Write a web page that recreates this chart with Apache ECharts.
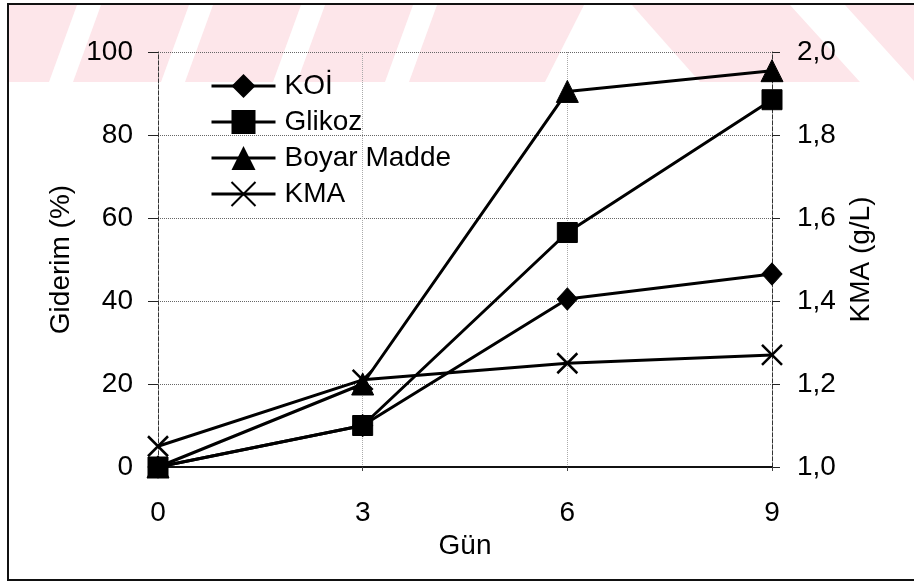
<!DOCTYPE html>
<html>
<head>
<meta charset="utf-8">
<script src="https://cdn.jsdelivr.net/npm/echarts@6/dist/echarts.min.js"></script>
<style>
html,body{margin:0;padding:0;background:#fff;}
#chart{width:914px;height:588px;}
</style>
</head>
<body>
<div id="chart"></div>
<script>
const days = [0, 3, 6, 9];
const koi = [0, 10, 40.5, 46.5];
const glikoz = [0, 10, 56.5, 88.5];
const boyar = [0, 20, 90.5, 95.5];
const kma = [1.05, 1.21, 1.25, 1.27];
const seriesNames = ['KOİ', 'Glikoz', 'Boyar Madde', 'KMA'];
const leftTicks = [0, 20, 40, 60, 80, 100];
const rightTicks = [1.0, 1.2, 1.4, 1.6, 1.8, 2.0];

const FONT = '"Liberation Sans", Arial, sans-serif';
const chart = echarts.init(document.getElementById('chart'), null, {renderer: 'canvas'});

function pair(xs, ys) { return xs.map((x, i) => [x, ys[i]]); }

// watermark decoration (background band)
const pink = '#fde6ea';
const wm = [{type: 'rect', shape: {x: 8, y: 5, width: 906, height: 77}, style: {fill: pink}, z: -10, silent: true}];
[77, 189, 301, 413].forEach(t => {
  wm.push({type: 'polygon', shape: {points: [[t, 5], [t + 24, 5], [t - 4, 82], [t - 28, 82]]}, style: {fill: '#fff'}, z: -9, silent: true});
});
wm.push({type: 'polygon', shape: {points: [[584, 5], [632, 5], [700, 82], [545, 82]]}, style: {fill: '#fff'}, z: -9, silent: true});
wm.push({type: 'polygon', shape: {points: [[790, 5], [845, 5], [915, 82], [860, 82]]}, style: {fill: '#fff'}, z: -9, silent: true});
wm.push({type: 'rect', shape: {x: 8, y: 4, width: 920, height: 576}, style: {fill: 'none', stroke: '#111', lineWidth: 2}, z: -8, silent: true});

const lineStyle = {color: '#000', width: 3};
const base = {type: 'line', lineStyle: lineStyle, itemStyle: {color: '#000', borderColor: '#000'}, animation: false, z: 5};

chart.setOption({
  backgroundColor: '#fff',
  animation: false,
  graphic: wm,
  grid: {left: 158, right: 142, top: 52, bottom: 121},
  legend: {
    orient: 'vertical', left: 205, top: 67,
    itemWidth: 64, itemHeight: 30, itemGap: 8,
    lineStyle: {width: 3, color: '#000'},
    textStyle: {fontFamily: FONT, fontSize: 28, lineHeight: 28, color: '#000', padding: [0, 0, 0, 4]},
    data: seriesNames
  },
  xAxis: {
    type: 'value', min: 0, max: 9, interval: 3,
    name: 'Gün', nameLocation: 'middle', nameGap: 55,
    nameTextStyle: {fontFamily: FONT, fontSize: 28, color: '#000'},
    axisLine: {onZero: false, lineStyle: {color: '#111', width: 2}},
    axisTick: {show: true, length: 4, lineStyle: {color: '#444'}},
    axisLabel: {fontFamily: FONT, fontSize: 28, color: '#000', margin: 32},
    splitLine: {show: true, lineStyle: {color: '#aaa', type: 'dotted', width: 1}}
  },
  yAxis: [{
    type: 'value', min: 0, max: 100, interval: 20, position: 'left',
    name: 'Giderim (%)', nameLocation: 'middle', nameGap: 80,
    nameTextStyle: {fontFamily: FONT, fontSize: 28, color: '#000'},
    axisLine: {show: true, onZero: false, lineStyle: {color: '#333', width: 1, type: 'dashed'}},
    axisTick: {show: true, length: 10, lineStyle: {color: '#222'}},
    axisLabel: {fontFamily: FONT, fontSize: 28, color: '#000', margin: 25},
    splitLine: {show: true, lineStyle: {color: '#666', type: 'dotted', width: 1}}
  }, {
    type: 'value', min: 1.0, max: 2.0, interval: 0.2, position: 'right',
    name: 'KMA (g/L)', nameLocation: 'middle', nameGap: 75,
    nameTextStyle: {fontFamily: FONT, fontSize: 28, color: '#000'},
    axisLine: {show: true, onZero: false, lineStyle: {color: '#333', width: 1, type: 'dashed'}},
    axisTick: {show: true, length: 8, lineStyle: {color: '#222'}},
    axisLabel: {fontFamily: FONT, fontSize: 28, color: '#000', margin: 25,
      formatter: v => v.toFixed(1).replace('.', ',')},
    splitLine: {show: false}
  }],
  series: [
    Object.assign({}, base, {name: seriesNames[0], data: pair(days, koi), symbol: 'diamond', symbolSize: [20, 22]}),
    Object.assign({}, base, {name: seriesNames[1], data: pair(days, glikoz), symbol: 'rect', symbolSize: 20}),
    Object.assign({}, base, {name: seriesNames[2], data: pair(days, boyar), symbol: 'triangle', symbolSize: [22, 22]}),
    Object.assign({}, base, {name: seriesNames[3], yAxisIndex: 1, data: pair(days, kma),
      symbol: 'path://M0,0L20,20M20,0L0,20', symbolSize: 20,
      itemStyle: {color: '#000', borderColor: '#000', borderWidth: 2.5}})
  ]
});
</script>
</body>
</html>
